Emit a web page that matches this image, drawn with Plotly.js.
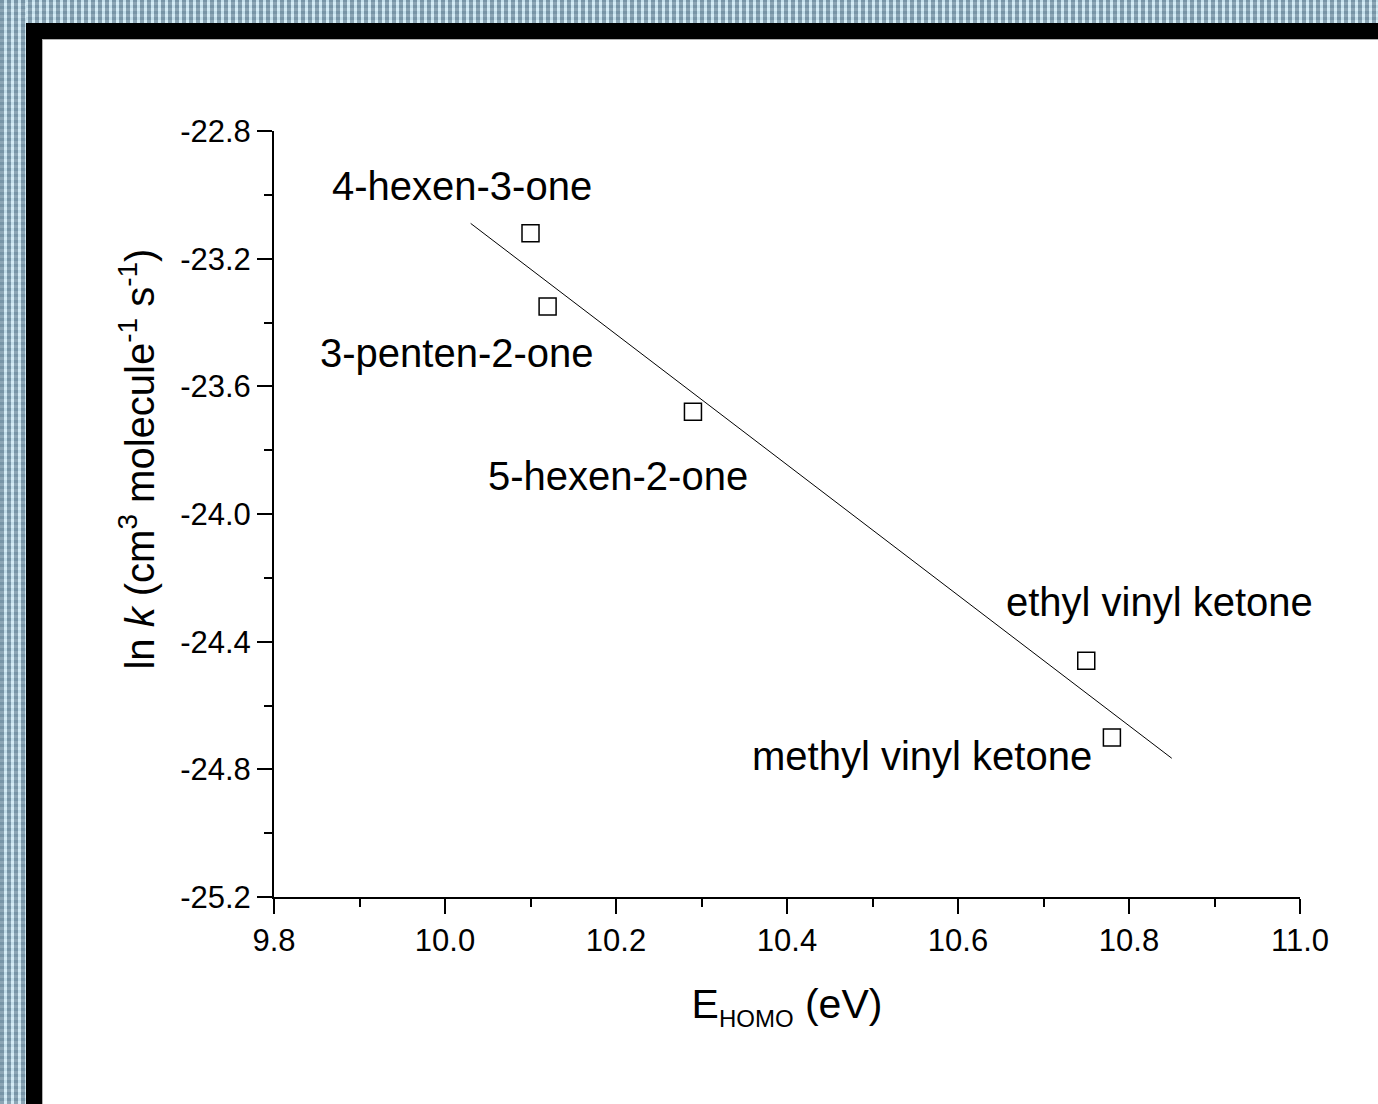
<!DOCTYPE html>
<html>
<head>
<meta charset="utf-8">
<script src="https://cdn.plot.ly/plotly-3.0.1.min.js"></script>
<style>
  html, body { margin: 0; padding: 0; background: #ffffff; }
  #wrap { position: relative; width: 1378px; height: 1104px; overflow: hidden; }
  #chart { position: absolute; left: 0; top: 0; width: 1378px; height: 1104px; }
  .strip {
    position: absolute;
    background-color: #b2cfdd;
    background-image:
      repeating-linear-gradient(90deg, rgba(90,120,140,0.55) 0px, rgba(90,120,140,0.55) 4px, rgba(220,245,255,0.6) 4px, rgba(220,245,255,0.6) 7px),
      repeating-linear-gradient(0deg, rgba(255,255,255,0.3) 0px, rgba(255,255,255,0.3) 3px, rgba(60,90,110,0.2) 3px, rgba(60,90,110,0.2) 6px);
  }
  .frame { position: absolute; background: #000000; }
  .edge { position: absolute; background: #b0b0b0; }
</style>
</head>
<body>
<div id="wrap">
  <div id="chart"></div>
  <div class="strip" style="left:0;top:0;width:1378px;height:23px;"></div>
  <div class="strip" style="left:0;top:0;width:26px;height:1104px;"></div>
  <div class="frame" style="left:26px;top:23px;width:1352px;height:16px;"></div>
  <div class="frame" style="left:26px;top:23px;width:16px;height:1081px;"></div>
  <div class="edge" style="left:42px;top:39px;width:1336px;height:1px;"></div>
  <div class="edge" style="left:42px;top:39px;width:1px;height:1065px;"></div>
</div>
<script>
// ---- data ----
const compounds = ["4-hexen-3-one", "3-penten-2-one", "5-hexen-2-one", "ethyl vinyl ketone", "methyl vinyl ketone"];
const eHomo = [10.10, 10.12, 10.29, 10.75, 10.78];
const lnK = [-23.12, -23.35, -23.68, -24.46, -24.70];
const fitRange = [10.03, 10.85];
const xTickVals = [9.8, 10.0, 10.2, 10.4, 10.6, 10.8, 11.0];
const yTickVals = [-22.8, -23.2, -23.6, -24.0, -24.4, -24.8, -25.2];
const xTickText = xTickVals.map(v => v.toFixed(1));
const yTickText = yTickVals.map(v => v.toFixed(1));
const xTitle = "E<sub><span style=\"font-size:24px\">HOMO</span></sub> (eV)";
const yTitle = "ln <i>k</i> (cm<sup>3</sup> molecule<sup>-1</sup> s<sup>-1</sup>)";

// linear least-squares fit computed from the data
const n = eHomo.length;
const mx = eHomo.reduce((a, b) => a + b, 0) / n;
const my = lnK.reduce((a, b) => a + b, 0) / n;
let sxy = 0, sxx = 0;
for (let i = 0; i < n; i++) { sxy += (eHomo[i] - mx) * (lnK[i] - my); sxx += (eHomo[i] - mx) ** 2; }
const slope = sxy / sxx;
const intercept = my - slope * mx;
const fitY = fitRange.map(x => intercept + slope * x);

// label offsets (pixels) relative to each point
const labelShift = [[-69, 47], [-91, -46], [-75, -64], [73, 59], [-190, -19]];

const FONT = "Liberation Sans, Arial, sans-serif";

const traces = [
  {
    x: fitRange, y: fitY, mode: "lines", type: "scatter",
    line: { color: "#000000", width: 1 }, hoverinfo: "skip", showlegend: false
  },
  {
    x: eHomo, y: lnK, mode: "markers", type: "scatter", text: compounds,
    marker: { symbol: "square-open", size: 17, color: "#000000", line: { color: "#000000", width: 1.5 } },
    showlegend: false
  }
];

const annotations = compounds.map((c, i) => ({
  x: eHomo[i], y: lnK[i], xref: "x", yref: "y", text: c, showarrow: false,
  xshift: labelShift[i][0], yshift: labelShift[i][1],
  xanchor: "center", yanchor: "middle",
  font: { family: FONT, size: 40, color: "#000000" }
}));

// y-axis title placed as a rotated annotation (sits above the axis centre in the reference)
annotations.push({
  x: 0, y: 0.571, xref: "paper", yref: "paper", xshift: -137,
  text: yTitle, textangle: -90, showarrow: false,
  xanchor: "center", yanchor: "middle",
  font: { family: FONT, size: 40, color: "#000000" }
});

const layout = {
  width: 1378, height: 1104,
  margin: { l: 274, r: 78, t: 131, b: 207 },
  paper_bgcolor: "#ffffff", plot_bgcolor: "#ffffff",
  showlegend: false,
  font: { family: FONT, color: "#000000" },
  xaxis: {
    range: [9.8, 11.0], showgrid: false, zeroline: false,
    showline: true, linecolor: "#000000", linewidth: 2,
    ticks: "outside", ticklen: 15, tickwidth: 2, tickcolor: "#000000",
    tickmode: "array", tickvals: xTickVals, ticktext: xTickText,
    minor: { ticks: "outside", ticklen: 8, tickwidth: 2, tickcolor: "#000000", dtick: 0.1, showgrid: false },
    tickfont: { family: FONT, size: 31, color: "#000000" },
    title: { text: xTitle, font: { family: FONT, size: 41, color: "#000000" }, standoff: 32 }
  },
  yaxis: {
    range: [-25.2, -22.8], showgrid: false, zeroline: false,
    showline: true, linecolor: "#000000", linewidth: 2,
    ticks: "outside", ticklen: 15, tickwidth: 2, tickcolor: "#000000",
    tickmode: "array", tickvals: yTickVals, ticktext: yTickText,
    minor: { ticks: "outside", ticklen: 8, tickwidth: 2, tickcolor: "#000000", dtick: 0.2, showgrid: false },
    tickfont: { family: FONT, size: 31, color: "#000000" }
  },
  annotations: annotations
};

Plotly.newPlot("chart", traces, layout, { staticPlot: true, displayModeBar: false });
</script>
</body>
</html>
